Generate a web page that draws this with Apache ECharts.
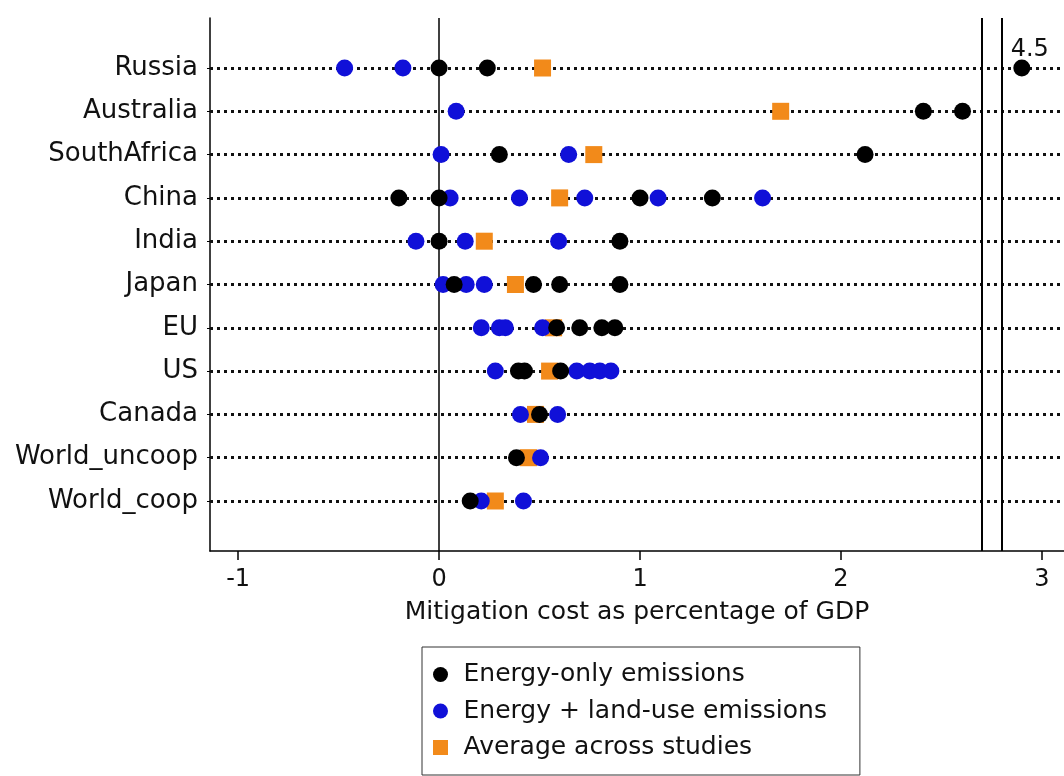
<!DOCTYPE html>
<html><head><meta charset="utf-8">
<script src="https://cdn.jsdelivr.net/npm/echarts@6/dist/echarts.min.js"></script>
<style>html,body{margin:0;padding:0;background:#fff}#c{width:1064px;height:776px}</style>
</head><body><div id="c"></div>
<script>
const countries = ['Russia','Australia','SouthAfrica','China','India','Japan','EU','US','Canada','World_uncoop','World_coop'];
const energyOnly = [[0.0,0.24,4.5],[2.41,2.605],[0.30,2.12],[-0.2,0.0,1.0,1.36],[0.0,0.9],[0.075,0.47,0.6,0.9],[0.585,0.70,0.81,0.875],[0.395,0.425,0.605],[0.50],[0.385],[0.155]];
const landUse = [[-0.47,-0.18],[0.085],[0.01,0.645],[0.055,0.40,0.725,1.09,1.61],[-0.115,0.13,0.595],[0.02,0.135,0.225],[0.21,0.30,0.33,0.515],[0.28,0.685,0.75,0.80,0.855],[0.405,0.59],[0.505],[0.21,0.42]];
const average = [0.515,1.70,0.77,0.60,0.225,0.38,0.57,0.55,0.48,0.445,0.28];
const xTicks = [-1,0,1,2,3];
const breakLines = [2.7,2.8];
const BREAK_AT = 2.8, OUTLIER_POS = 2.9;
const FONT = 'DejaVu Sans';
const TXT = '#111';

function pts(rows){
  const out = [];
  rows.forEach((vals,i)=>vals.forEach(v=>{
    if (v > BREAK_AT) out.push({value:[OUTLIER_POS,i], label:{show:true, formatter:String(v), position:'top', distance:0, offset:[8,2], fontSize:24, fontFamily:FONT, color:TXT}});
    else out.push([v,i]);
  }));
  return out;
}
const avgPts = average.map((v,i)=>[v,i]);

const chart = echarts.init(document.getElementById('c'), null, {renderer:'canvas'});
const markData = countries.map((c,i)=>({yAxis:i}))
  .concat([{xAxis:0, lineStyle:{type:'solid', width:1.5, color:'#000'}}])
  .concat(breakLines.map(v=>({xAxis:v, lineStyle:{type:'solid', width:2, color:'#000'}})));

chart.setOption({
  animation:false,
  textStyle:{fontFamily:FONT},
  grid:{left:210, top:18, bottom:225, right:0, containLabel:false},
  xAxis:{
    type:'value', min:-1.14, max:3.11,
    axisLine:{onZero:false, lineStyle:{color:'#000', width:1.5}},
    axisTick:{show:true, length:9, customValues:xTicks, lineStyle:{color:'#000', width:1.5}},
    axisLabel:{customValues:xTicks, fontSize:24, color:TXT, margin:17, fontFamily:FONT},
    splitLine:{show:false},
    name:'Mitigation cost as percentage of GDP', nameLocation:'middle', nameGap:49,
    nameTextStyle:{fontSize:25, color:TXT, fontFamily:FONT}
  },
  yAxis:{
    type:'value', inverse:true, min:-1.155, max:11.155,
    axisLine:{show:true, onZero:false, lineStyle:{color:'#000', width:1.5}},
    axisTick:{show:true, length:3, customValues:countries.map((c,i)=>i), lineStyle:{color:'#000'}},
    axisLabel:{customValues:countries.map((c,i)=>i), formatter:v=>countries[Math.round(v)], fontSize:26, color:TXT, margin:12, fontFamily:FONT},
    splitLine:{show:false}
  },
  legend:{
    orient:'vertical', left:422, top:647,
    padding:[15,33,15,11], itemWidth:36, itemHeight:15, itemGap:11.5,
    borderColor:'#333', borderWidth:1,
    textStyle:{fontSize:25, color:TXT, fontFamily:FONT, lineHeight:25},
    data:[
      {name:'Energy-only emissions', icon:'circle'},
      {name:'Energy + land-use emissions', icon:'circle'},
      {name:'Average across studies', icon:'path://M0,0H10V10H0Z'}
    ]
  },
  series:[
    {type:'scatter', name:'_guides', data:[], z:1, silent:true,
     markLine:{silent:true, z:1, symbol:['none','none'], label:{show:false}, animation:false,
       lineStyle:{type:[3,4], width:3, color:'#111', cap:'butt'}, data:markData}},
    {type:'scatter', name:'Average across studies', data:avgPts, symbol:'rect', symbolSize:17, z:10,
     itemStyle:{color:'#f28a1a', opacity:1}},
    {type:'scatter', name:'Energy + land-use emissions', data:pts(landUse), symbol:'circle', symbolSize:17, z:11,
     itemStyle:{color:'#1010d8', opacity:1}},
    {type:'scatter', name:'Energy-only emissions', data:pts(energyOnly), symbol:'circle', symbolSize:17, z:12,
     itemStyle:{color:'#000', opacity:1}}
  ]
});
</script></body></html>
